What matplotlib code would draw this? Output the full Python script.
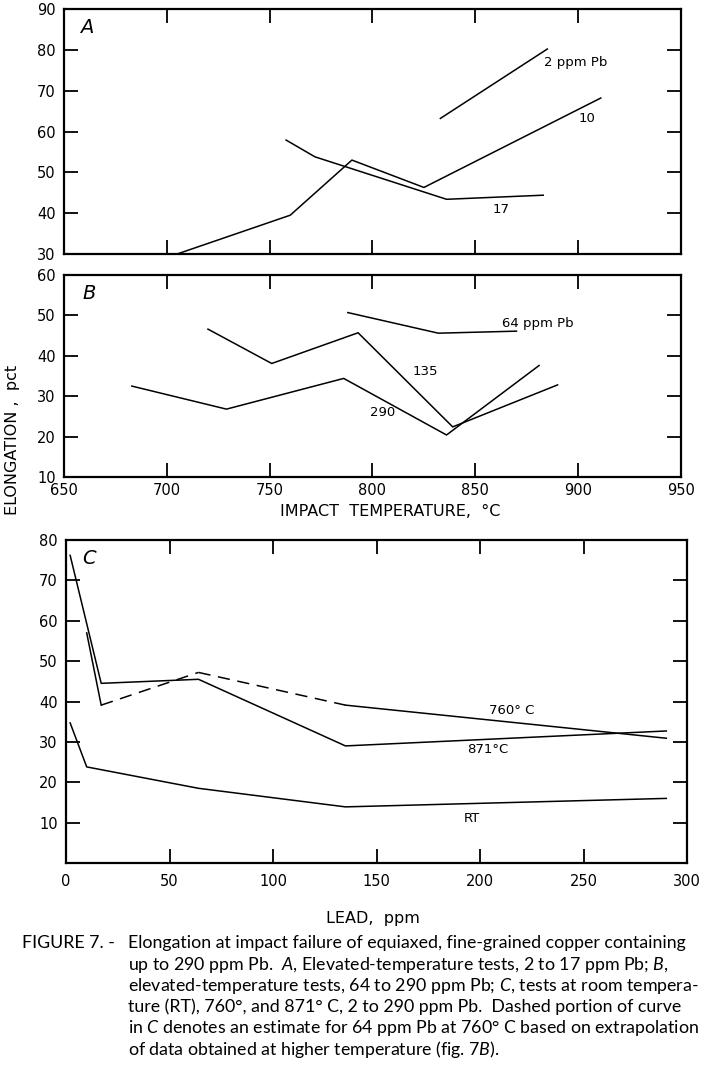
import matplotlib
matplotlib.use("Agg")
import matplotlib.pyplot as plt
from matplotlib import font_manager

# ---------------- data ----------------
# Panel A: elevated-temperature tests, 2 to 17 ppm Pb
a_2ppm_temp = [833, 885]
a_2ppm_elong = [63.2, 80.2]
a_10ppm_temp = [705, 760, 790, 825, 911]
a_10ppm_elong = [30.0, 39.5, 53.0, 46.3, 68.2]
a_17ppm_temp = [758, 772, 836, 883]
a_17ppm_elong = [57.9, 53.8, 43.4, 44.4]

# Panel B: elevated-temperature tests, 64 to 290 ppm Pb
b_64ppm_temp = [788, 832, 870]
b_64ppm_elong = [50.7, 45.6, 46.1]
b_135ppm_temp = [720, 751, 793, 839, 890]
b_135ppm_elong = [46.6, 38.1, 45.7, 22.4, 32.8]
b_290ppm_temp = [683, 729, 786, 836, 881]
b_290ppm_elong = [32.5, 26.8, 34.4, 20.4, 37.6]

# Panel C: elongation vs lead content
c_871_lead = [2, 17, 64, 135, 290]
c_871_elong = [76.2, 44.5, 45.5, 29.0, 32.7]
c_760_lead = [10, 17, 64, 135, 290]
c_760_elong = [57.0, 39.1, 47.2, 39.1, 30.9]
c_760_dashed = [False, True, True, False]   # style of each segment
c_rt_lead = [2, 10, 64, 135, 290]
c_rt_elong = [34.7, 23.8, 18.5, 13.9, 16.0]

temp_ticks = [650, 700, 750, 800, 850, 900, 950]
lead_ticks = [0, 50, 100, 150, 200, 250, 300]
a_yticks = [30, 40, 50, 60, 70, 80, 90]
b_yticks = [10, 20, 30, 40, 50, 60]
c_yticks = [0, 10, 20, 30, 40, 50, 60, 70, 80]
c_ytick_labels = ["", "10", "20", "30", "40", "50", "60", "70", "80"]

caption_head = "FIGURE 7. -"
caption_lines = [
    "Elongation at impact failure of equiaxed, fine-grained copper containing",
    r"up to 290 ppm Pb.  $\it{A}$, Elevated-temperature tests, 2 to 17 ppm Pb; $\it{B}$,",
    r"elevated-temperature tests, 64 to 290 ppm Pb; $\it{C}$, tests at room tempera-",
    "ture (RT), 760°, and 871° C, 2 to 290 ppm Pb.  Dashed portion of curve",
    r"in $\it{C}$ denotes an estimate for 64 ppm Pb at 760° C based on extrapolation",
    r"of data obtained at higher temperature (fig. 7$\it{B}$).",
]

# ---------------- style ----------------
W, H = 705, 1065
LW = 1.1
plt.rcParams["font.family"] = ["DejaVu Sans"]


def pick_font(cands):
    for c in cands:
        try:
            font_manager.findfont(font_manager.FontProperties(family=c),
                                  fallback_to_default=False)
            return c
        except Exception:
            continue
    return "DejaVu Sans"


cap_font = pick_font(["Liberation Sans Narrow", "Lato", "Open Sans", "DejaVu Sans"])
plt.rcParams["mathtext.fontset"] = "custom"
plt.rcParams["mathtext.rm"] = cap_font
plt.rcParams["mathtext.it"] = cap_font + ":italic"

fig = plt.figure(figsize=(W / 100, H / 100), dpi=100)
fig.patch.set_facecolor("white")


def box(l, r, t, b):
    return [l / W, 1 - b / H, (r - l) / W, (b - t) / H]


axA = fig.add_axes(box(64, 681, 9, 254))
axB = fig.add_axes(box(64, 681, 275, 477))
axC = fig.add_axes(box(66, 687, 540, 863))


def style(ax):
    for s in ax.spines.values():
        s.set_linewidth(1.6)
        s.set_color("black")
    ax.tick_params(direction="in", top=True, right=True, length=10, width=1.3,
                   labelsize=10.5, pad=6, colors="black")


# Panel A
axA.plot(a_2ppm_temp, a_2ppm_elong, color="black", lw=LW)
axA.plot(a_10ppm_temp, a_10ppm_elong, color="black", lw=LW)
axA.plot(a_17ppm_temp, a_17ppm_elong, color="black", lw=LW)
axA.set_xlim(650, 950)
axA.set_ylim(30, 90)
axA.set_xticks(temp_ticks)
axA.set_xticklabels([])
axA.set_yticks(a_yticks)
style(axA)
axA.text(883.3, 76.8, "2 ppm Pb", fontsize=9.5, ha="left", va="center")
axA.text(904.5, 63.3, "10", fontsize=9.5, ha="center", va="center")
axA.text(862.4, 40.9, "17", fontsize=9.5, ha="center", va="center")
axA.text(658, 85.5, "A", fontsize=14, style="italic", ha="left", va="center")

# Panel B
axB.plot(b_64ppm_temp, b_64ppm_elong, color="black", lw=LW)
axB.plot(b_135ppm_temp, b_135ppm_elong, color="black", lw=LW)
axB.plot(b_290ppm_temp, b_290ppm_elong, color="black", lw=LW)
axB.set_xlim(650, 950)
axB.set_ylim(10, 60)
axB.set_xticks(temp_ticks)
axB.set_yticks(b_yticks)
style(axB)
axB.tick_params(axis="x", pad=4)
axB.text(863.2, 48.0, "64 ppm Pb", fontsize=9.5, ha="left", va="center")
axB.text(825.8, 36.1, "135", fontsize=9.5, ha="center", va="center")
axB.text(804.7, 25.9, "290", fontsize=9.5, ha="center", va="center")
axB.text(659, 55.5, "B", fontsize=14, style="italic", ha="left", va="center")

# Panel C
axC.plot(c_871_lead, c_871_elong, color="black", lw=LW)
for i, dashed in enumerate(c_760_dashed):
    axC.plot(c_760_lead[i:i + 2], c_760_elong[i:i + 2], color="black", lw=LW,
             linestyle=(0, (8, 5)) if dashed else "-")
axC.plot(c_rt_lead, c_rt_elong, color="black", lw=LW)
axC.set_xlim(0, 300)
axC.set_ylim(0, 80)
axC.set_xticks(lead_ticks)
axC.set_yticks(c_yticks)
axC.set_yticklabels(c_ytick_labels)
style(axC)
axC.tick_params(axis="x", pad=8)
axC.text(215.3, 37.7, "760° C", fontsize=9.5, ha="center", va="center")
axC.text(203.6, 28.1, "871°C", fontsize=9.5, ha="center", va="center")
axC.text(196, 10.9, "RT", fontsize=9.5, ha="center", va="center")
axC.text(8, 75.5, "C", fontsize=14, style="italic", ha="left", va="center")

# axis titles
fig.text(13 / W, 1 - 440 / H, "ELONGATION ,  pct", rotation=90, fontsize=11.5,
         ha="center", va="center")
fig.text(390 / W, 1 - 511 / H, "IMPACT  TEMPERATURE,  °C", fontsize=11.5,
         ha="center", va="center")
fig.text(373 / W, 1 - 918 / H, "LEAD,  ppm", fontsize=11.5,
         ha="center", va="center")

# caption, scaled so the widest line spans the original width
renderer = fig.canvas.get_renderer()
widths = []
for line in caption_lines:
    probe = fig.text(0, 0, line, fontsize=10, family=cap_font)
    widths.append(probe.get_window_extent(renderer).width)
    probe.remove()
cap_size = 10 * (697 - 128) / max(widths)

line_y = [943, 965, 986, 1007, 1028, 1050]
fig.text(22 / W, 1 - line_y[0] / H, caption_head, fontsize=cap_size,
         family=cap_font, ha="left", va="center")
for y, line in zip(line_y, caption_lines):
    fig.text(128 / W, 1 - y / H, line, fontsize=cap_size, family=cap_font,
             ha="left", va="center")

fig.savefig("out.png", dpi=100, facecolor="white")
